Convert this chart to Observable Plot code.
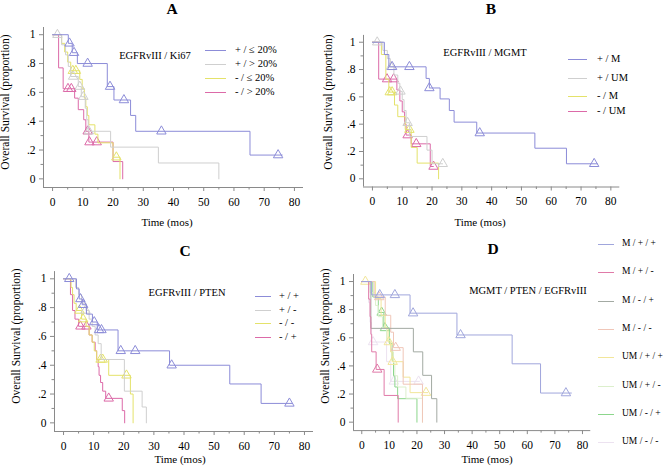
<!DOCTYPE html>
<html><head><meta charset="utf-8">
<script src="https://cdn.jsdelivr.net/npm/d3@7"></script>
<script src="https://cdn.jsdelivr.net/npm/@observablehq/plot@0.6"></script>
<style>
body{margin:0;background:#fff;}
#fig{position:relative;width:664px;height:468px;overflow:hidden;font-family:"Liberation Serif","DejaVu Serif",serif;color:#000;}
#fig svg{position:absolute;}
.t{position:absolute;white-space:nowrap;line-height:1;transform:translate(-50%,-50%);}
.title{font-weight:bold;font-size:15.5px;}
.sub{font-size:10.5px;}
.axl{font-size:11px;}
.yl{font-size:11.5px;transform:translate(-50%,-50%) rotate(-90deg);}
.lg{position:absolute;white-space:nowrap;line-height:1;font-size:10.5px;transform:translateY(-50%);}
.lg.small{font-size:9.5px;}
.sw{position:absolute;height:1px;}
</style></head>
<body><div id="fig"></div>
<script>
// ---------- shared tick values ----------
const timeTicks = [0,10,20,30,40,50,60,70,80];
const timeMinor = [5,15,25,35,45,55,65,75];
const survTicks = [0,0.2,0.4,0.6,0.8,1];
const survMinor = [0.1,0.3,0.5,0.7,0.9];

// ---------- Panel A: EGFRvIII / Ki67 ----------
const aTitle = "A", aSub = "EGFRvIII / Ki67";
const aLabels = ["+ / \u2264 20%", "+ / > 20%", "-  / \u2264 20%", "-  / > 20%"];
const aPlusLow = [[0,1],[5.2,0.94],[6.5,0.875],[8.2,0.80],[18.1,0.64],[20.3,0.547],[25.8,0.44],[27.5,0.33],[65.3,0.165],[76,0.165]];
const aPlusLowCens = [[5.6,0.94],[7.1,0.875],[11.6,0.80],[19,0.64],[23.6,0.547],[36,0.33],[74.6,0.165]];
const aPlusHigh = [[0,1],[3,0.93],[4.3,0.86],[5.2,0.78],[6,0.71],[8.5,0.64],[9.5,0.57],[10.8,0.49],[11.3,0.41],[11.8,0.33],[19.2,0.22],[35,0.11],[55,0]];
const aPlusHighCens = [[1.6,1],[6.8,0.71],[9,0.64],[10.2,0.57],[12,0.33]];
const aMinusLow = [[0,1],[3,0.94],[4,0.88],[5,0.81],[6,0.75],[9,0.69],[9.8,0.625],[10.5,0.56],[11,0.5],[11.5,0.44],[12,0.375],[14,0.31],[15,0.25],[20,0.15],[22.3,0]];
const aMinusLowCens = [[6.7,0.75],[7.7,0.75],[21.1,0.15]];
const aMinusHigh = [[0,1],[2,0.77],[3.5,0.625],[7.3,0.56],[8.5,0.48],[10.3,0.41],[11,0.33],[12,0.255],[20,0.12],[23.2,0]];
const aMinusHighCens = [[5.1,0.625],[6.2,0.625],[11.6,0.33],[12.2,0.255],[14.6,0.255]];

// ---------- Panel B: EGFRvIII / MGMT ----------
const bTitle = "B", bSub = "EGFRvIII / MGMT";
const bLabels = ["+ / M", "+ / UM", "- / M", "- / UM"];
const bPlusM = [[0,1],[4,0.91],[5.5,0.82],[18,0.735],[19.1,0.665],[22.7,0.585],[25.8,0.50],[27.4,0.415],[35,0.335],[54.5,0.224],[65.1,0.11],[75.5,0.11]];
const bPlusMCens = [[6.6,0.82],[12.4,0.82],[19.1,0.665],[36,0.335],[74.4,0.11]];
const bPlusUM = [[0,1],[3.5,0.94],[5,0.88],[6,0.82],[7.2,0.76],[8.5,0.70],[9.2,0.64],[10,0.58],[10.6,0.50],[11.3,0.41],[12.5,0.31],[18.3,0.21],[20,0.11],[23.6,0.11]];
const bPlusUMCens = [[1.6,1],[6.2,0.82],[9.4,0.64],[11.8,0.41],[23.6,0.11]];
const bMinusM = [[0,1],[3,0.91],[4.5,0.73],[5.5,0.635],[7.4,0.54],[8.5,0.455],[11,0.36],[13,0.23],[15,0.115],[22.2,0]];
const bMinusMCens = [[5.8,0.635],[6.6,0.635],[12.4,0.36]];
const bMinusUM = [[0,1],[2.1,0.73],[8.2,0.65],[9.2,0.57],[10,0.49],[10.8,0.40],[11.3,0.32],[13,0.256],[19.4,0.09],[20.5,0.09]];
const bMinusUMCens = [[4.9,0.73],[7.1,0.73],[11.8,0.32],[14.7,0.256],[20.5,0.09]];

// ---------- Panel C: EGFRvIII / PTEN ----------
const cTitle = "C", cSub = "EGFRvIII / PTEN";
const cLabels = ["+ / +", "+ / -", "- / -", "- / +"];
const cPP = [[0,1],[4.3,0.93],[5.2,0.86],[6.2,0.82],[7.6,0.755],[9.6,0.70],[11.2,0.645],[18.1,0.50],[35.2,0.40],[55.2,0.27],[65.6,0.135],[76,0.135]];
const cPPCens = [[1.9,1],[5.6,0.86],[6.5,0.82],[10.2,0.70],[11.8,0.645],[12.6,0.645],[19,0.50],[23.8,0.50],[35.9,0.40],[75,0.135]];
const cPM = [[0,1],[4,0.94],[5,0.89],[6,0.83],[7.5,0.78],[8.5,0.72],[9.5,0.67],[10.5,0.61],[11.5,0.55],[12.5,0.44],[20.2,0.22],[26.1,0.11],[27.5,0]];
const cPMCens = [[7.3,0.78]];
const cMM = [[0,1],[2.5,0.94],[3,0.89],[3.5,0.83],[4.2,0.78],[6,0.72],[7.5,0.67],[8.5,0.61],[9.5,0.56],[10.2,0.5],[11,0.44],[15,0.33],[22.2,0.2],[23.1,0]];
const cMMCens = [[5.3,0.78],[6.5,0.72],[12.3,0.44],[13,0.44],[20.9,0.33]];
const cMP = [[0,1],[2.3,0.89],[3,0.78],[3.8,0.72],[5,0.67],[8.5,0.61],[9.5,0.56],[10.5,0.5],[11,0.44],[11.5,0.39],[11.8,0.33],[12.3,0.28],[13,0.22],[14,0.17],[19.5,0.085],[20.3,0]];
const cMPCens = [[5.6,0.67],[7.6,0.67],[15,0.17]];

// ---------- Panel D: MGMT / PTEN / EGFRvIII ----------
const dTitle = "D", dSub = "MGMT / PTEN / EGFRvIII";
const dLabels = ["M / + / +", "M / + / -", "M / - / +", "M / - / -", "UM / + / +", "UM / + / -", "UM / - / +", "UM / - / -"];
const dMPP = [[0,1],[3.5,0.905],[17.5,0.775],[34.5,0.62],[54.5,0.415],[64.8,0.207],[76,0.207]];
const dMPPCens = [[6.5,0.905],[12,0.905],[18.6,0.775],[35.8,0.62],[74,0.207]];
const dMPM = [[0,1],[2.5,0.875],[3,0.75],[3.3,0.625],[3.6,0.5],[5.2,0.375],[8.1,0.19],[13.2,0]];
const dMPMCens = [[5.6,0.375]];
const dMMP = [[0,1],[3.3,0.667],[18.7,0.5],[22.1,0.333],[25.3,0.167],[27.2,0]];
const dMMPCens = [];
const dMMM = [[0,1],[4.5,0.89],[8.5,0.76],[10.5,0.64],[11.5,0.53],[15,0.27],[22,0]];
const dMMMCens = [[6.3,0.89],[12.3,0.53]];
const dUPP = [[0,1],[5,0.88],[7,0.76],[8.5,0.67],[9.5,0.57],[10.5,0.5],[11,0.43],[15,0.32],[17.5,0.21],[24,0.21]];
const dUPPCens = [[1.3,1],[9.8,0.57],[11.2,0.43],[23.3,0.21]];
const dUPM = [[0,1],[3,0.92],[5,0.83],[6,0.75],[7.5,0.67],[9,0.58],[10.5,0.5],[11.5,0.42],[12,0.33],[13,0.25],[16,0.17],[22,0]];
const dUPMCens = [];
const dUMP = [[0,1],[4,0.89],[6,0.78],[8,0.67],[10,0.56],[11,0.44],[11.5,0.33],[12,0.25],[13,0.167],[20,0]];
const dUMPCens = [[7.2,0.78],[8.4,0.67]];
const dUMM = [[0,1],[2.5,0.85],[3,0.71],[3.5,0.57],[9,0.43],[10.5,0.29],[21,0.29]];
const dUMMCens = [[4.1,0.57],[11.6,0.29],[20.6,0.29]];

// ---------- styles ----------
const col4 = ["#8c8cd8", "#cfcfcf", "#e4e26a", "#dc6aa8"];
const col8 = ["#a0a6dc", "#e07aa8", "#a3aaa3", "#f0c6b8", "#f2e69a", "#dcefcc", "#8cd68c", "#ece2f0"];
const axisCol = "#8a8a8a";

const panels = [
  {title:aTitle, sub:aSub, labels:aLabels, colors:col4,
   curves:[aPlusLow,aPlusHigh,aMinusLow,aMinusHigh], cens:[aPlusLowCens,aPlusHighCens,aMinusLowCens,aMinusHighCens],
   box:{left:0,top:0,width:318,height:234}, m:{l:43,r:15,t:27,b:47},
   titlePos:[172,9], subPos:[155,56], xlPos:[167,222], ylPos:[6,102],
   leg:{sx:205,sw:21,tx:235,rows:[50,63.5,77.5,91.7], cls:"lg"}},
  {title:bTitle, sub:bSub, labels:bLabels, colors:col4,
   curves:[bPlusM,bPlusUM,bMinusM,bMinusUM], cens:[bPlusMCens,bPlusUMCens,bMinusMCens,bMinusUMCens],
   box:{left:318,top:0,width:346,height:234}, m:{l:45,r:44.7,t:34.9,b:47.5},
   titlePos:[491,9], subPos:[485,53], xlPos:[480,222], ylPos:[329,102],
   leg:{sx:568,sw:19,tx:597,rows:[59,78,96,111], cls:"lg"}},
  {title:cTitle, sub:cSub, labels:cLabels, colors:col4,
   curves:[cPP,cPM,cMM,cMP], cens:[cPPCens,cPMCens,cMMCens,cMPCens],
   box:{left:0,top:234,width:318,height:234}, m:{l:54,r:5,t:37.1,b:37},
   titlePos:[185,251], subPos:[187,293], xlPos:[180,459], ylPos:[17,336],
   leg:{sx:255,sw:16,tx:279,rows:[296,309.5,323.3,337.3], cls:"lg"}},
  {title:dTitle, sub:dSub, labels:dLabels, colors:col8,
   curves:[dMPP,dMPM,dMMP,dMMM,dUPP,dUPM,dUMP,dUMM], cens:[dMPPCens,dMPMCens,dMMPCens,dMMMCens,dUPPCens,dUPMCens,dUMPCens,dUMMCens],
   box:{left:318,top:234,width:278,height:234}, m:{l:35,r:5.75,t:40,b:37.9},
   titlePos:[493,249], subPos:[528,291], xlPos:[487,459], ylPos:[326,336],
   leg:{sx:598,sw:16,tx:622,rows:[244,272.3,300.6,328.9,357.2,385.5,413.8,442.1], cls:"lg small"}}
];

const fig = document.getElementById("fig");
const fmtY = d => d === 0 ? "0" : d === 1 ? "1" : "." + Math.round(d * 10);

function addText(cls, txt, x, y) {
  const el = document.createElement("div");
  el.className = cls; el.textContent = txt;
  el.style.left = x + "px"; el.style.top = y + "px";
  fig.appendChild(el);
}

for (const p of panels) {
  const marks = [
    Plot.ruleX([-3], {stroke: axisCol}),
    Plot.ruleY([-0.06], {stroke: axisCol}),
    Plot.axisX(timeTicks, {tickSize: 4, tickPadding: 6, stroke: axisCol, tickFormat: d => d, label: null}),
    Plot.axisX(timeMinor, {tickSize: 2.5, stroke: axisCol, tickFormat: () => "", label: null}),
    Plot.axisY(survTicks, {tickSize: 4, tickPadding: 4, stroke: axisCol, tickFormat: fmtY, label: null}),
    Plot.axisY(survMinor, {tickSize: 2.5, stroke: axisCol, tickFormat: () => "", label: null})
  ];
  for (let i = p.curves.length - 1; i >= 0; i--) {
    marks.push(Plot.line(p.curves[i], {x: d => d[0], y: d => d[1], curve: "step-after", stroke: p.colors[i], strokeWidth: 1}));
    marks.push(Plot.dot(p.cens[i], {x: d => d[0], y: d => d[1], symbol: "triangle", r: 3.5, stroke: p.colors[i], fill: "none", strokeWidth: 1}));
  }
  const svg = Plot.plot({
    width: p.box.width, height: p.box.height,
    marginLeft: p.m.l, marginRight: p.m.r, marginTop: p.m.t, marginBottom: p.m.b,
    x: {domain: [-3, 83]}, y: {domain: [-0.06, 1.05]},
    style: {fontFamily: "'Liberation Serif', serif", fontSize: "11.5px", background: "transparent", color: "#000", overflow: "visible"},
    marks
  });
  svg.style.left = p.box.left + "px";
  svg.style.top = p.box.top + "px";
  fig.appendChild(svg);
}

for (const p of panels) {
  addText("t title", p.title, p.titlePos[0], p.titlePos[1]);
  addText("t sub", p.sub, p.subPos[0], p.subPos[1]);
  addText("t axl", "Time (mos)", p.xlPos[0], p.xlPos[1]);
  addText("t yl", "Overall Survival (proportion)", p.ylPos[0], p.ylPos[1]);
  p.labels.forEach((lab, i) => {
    const sw = document.createElement("div");
    sw.className = "sw";
    sw.style.left = p.leg.sx + "px"; sw.style.width = p.leg.sw + "px";
    sw.style.top = Math.round(p.leg.rows[i]) + "px"; sw.style.background = p.colors[i];
    fig.appendChild(sw);
    const t = document.createElement("div");
    t.className = p.leg.cls; t.textContent = lab;
    t.style.left = p.leg.tx + "px"; t.style.top = p.leg.rows[i] + "px";
    fig.appendChild(t);
  });
}
</script></body></html>
